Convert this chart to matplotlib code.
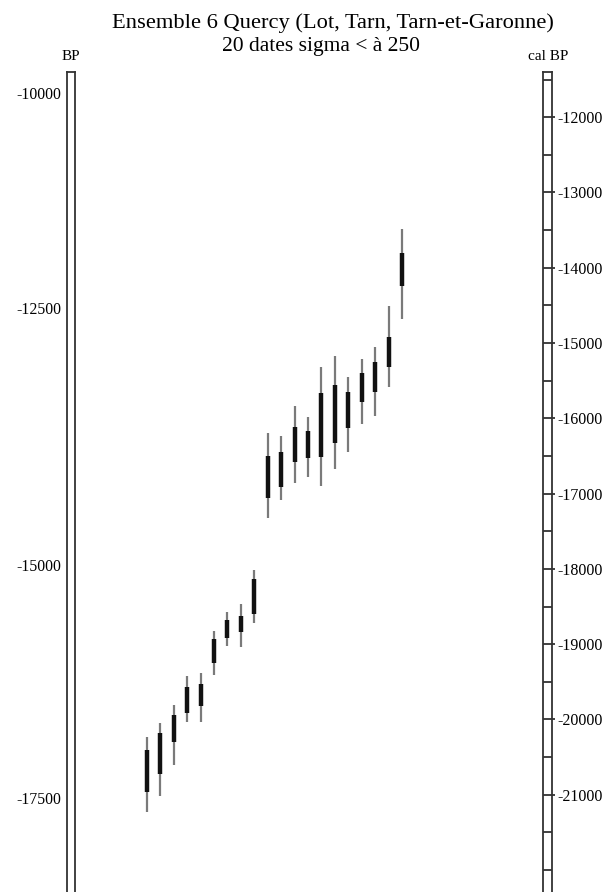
import matplotlib
matplotlib.use("Agg")
import matplotlib.pyplot as plt
import numpy as np

plt.rcParams['font.family'] = ['Liberation Serif', 'DejaVu Serif']

# ---- data (cal BP) ----
dates = list(range(1, 21))
outer_top = [-20230, -20050, -19810, -19420, -19380, -18830, -18570, -18470, -18020, -16200,
             -16240, -15840, -15980, -15320, -15170, -15450, -15210, -15050, -14510, -13490]
inner_top = [-20410, -20180, -19940, -19570, -19530, -18930, -18680, -18630, -18140, -16500,
             -16450, -16120, -16170, -15670, -15560, -15650, -15400, -15250, -14920, -13810]
inner_bot = [-20960, -20730, -20300, -19920, -19820, -19250, -18920, -18840, -18600, -17060,
             -16910, -16580, -16530, -16520, -16330, -16130, -15790, -15650, -15320, -14240]
outer_bot = [-21230, -21020, -20610, -20030, -20030, -19410, -19030, -19040, -18720, -17330,
             -17090, -16860, -16780, -16900, -16680, -16450, -16080, -15970, -15590, -14680]

bp_labels = ['-10000', '-12500', '-15000', '-17500']
bp_label_pos = [-11680, -14540, -17950, -21040]

cal_major = list(range(-12000, -21001, -1000))
cal_lines = list(range(-11500, -22501, -500))

W, H = 608, 892
fig = plt.figure(figsize=(W / 100, H / 100), dpi=100)

ylo, yhi = -22425, -11400
top_px, bot_px = 72, 902


def ax_rect(x0, x1):
    return [x0 / W, (H - bot_px) / H, (x1 - x0) / W, (bot_px - top_px) / H]


# main data axes
ax = fig.add_axes(ax_rect(80, 530))
ax.set_xlim(-3.99, 29.54)
ax.set_ylim(ylo, yhi)
ax.axis('off')
ax.vlines(dates, outer_bot, outer_top, color='#7a7a7a', linewidth=1.6)
ax.vlines(dates, inner_bot, inner_top, color='#111111', linewidth=3.2)

spine_col = '#333333'

# left BP scale
axl = fig.add_axes(ax_rect(67, 75))
axl.set_xlim(0, 1)
axl.set_ylim(ylo, yhi)
axl.set_xticks([])
axl.set_yticks(bp_label_pos)
axl.set_yticklabels(bp_labels)
axl.tick_params(axis='y', length=0, pad=4, labelsize=11.3)
for s in axl.spines.values():
    s.set_color(spine_col)
    s.set_linewidth(1.3)

# right cal BP scale
axr = fig.add_axes(ax_rect(543, 552))
axr.set_xlim(0, 1)
axr.set_ylim(ylo, yhi)
axr.set_xticks([])
axr.yaxis.tick_right()
axr.set_yticks(cal_major)
axr.set_yticklabels([str(v) for v in cal_major])
axr.tick_params(axis='y', direction='out', length=2, width=1.3, color=spine_col,
                pad=2, labelsize=11.5)
axr.hlines(cal_lines, 0, 1, color=spine_col, linewidth=1.3)
for s in axr.spines.values():
    s.set_color(spine_col)
    s.set_linewidth(1.3)

fig.text(71 / W, 1 - 57 / H, 'BP', ha='center', va='center', fontsize=11)
fig.text(548 / W, 1 - 57 / H, 'cal BP', ha='center', va='center', fontsize=11)
fig.text(333 / W, 1 - 23 / H, 'Ensemble 6 Quercy (Lot, Tarn, Tarn-et-Garonne)',
         ha='center', va='center', fontsize=16.2)
fig.text(321 / W, 1 - 47 / H, '20 dates sigma < à 250',
         ha='center', va='center', fontsize=15.5)

fig.savefig('out.png', dpi=100)
